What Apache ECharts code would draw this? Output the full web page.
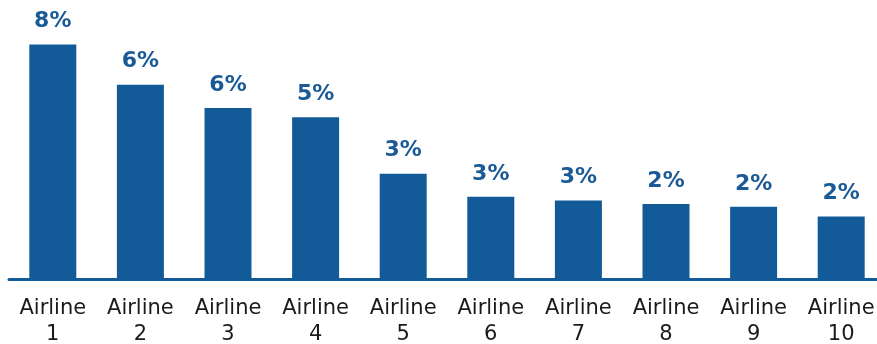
<!DOCTYPE html>
<html>
<head>
<meta charset="UTF-8">
<title></title>
<script src="https://cdn.jsdelivr.net/npm/echarts@6/dist/echarts.min.js"></script>
</head>
<body style="margin:0">
<div id="main" style="width:877px;height:344px;"></div>
<script type="text/javascript">
var categories = ['Airline\n1', 'Airline\n2', 'Airline\n3', 'Airline\n4', 'Airline\n5',
	'Airline\n6', 'Airline\n7', 'Airline\n8', 'Airline\n9', 'Airline\n10'];
var shares = [7.7, 6.38, 5.62, 5.31, 3.46, 2.70, 2.58, 2.46, 2.37, 2.05];

var blue = '#125b98';

var option = {
	animation: false,
	grid: { left: 9, right: -8, top: 5, bottom: 65, outerBoundsMode: 'none', containLabel: false },
	xAxis: {
		type: 'category',
		data: categories,
		axisLine: { lineStyle: { color: blue, width: 3 } },
		axisTick: { show: false },
		axisLabel: {
			interval: 0,
			color: '#1a1a1a',
			fontFamily: 'DejaVu Sans',
			fontSize: 21,
			lineHeight: 26,
			margin: 17
		}
	},
	yAxis: {
		type: 'value',
		min: 0,
		max: 9,
		show: false,
		splitLine: { show: false }
	},
	series: [{
		type: 'bar',
		data: shares,
		barWidth: 47,
		itemStyle: { color: blue },
		label: {
			show: true,
			position: 'top',
			distance: 12,
			color: '#1a5a97',
			fontFamily: 'DejaVu Sans',
			fontWeight: 'bold',
			fontSize: 22,
			formatter: function (p) { return Math.round(p.value) + '%'; }
		}
	}]
};

echarts.init(document.getElementById('main')).setOption(option);
</script>
</body>
</html>
